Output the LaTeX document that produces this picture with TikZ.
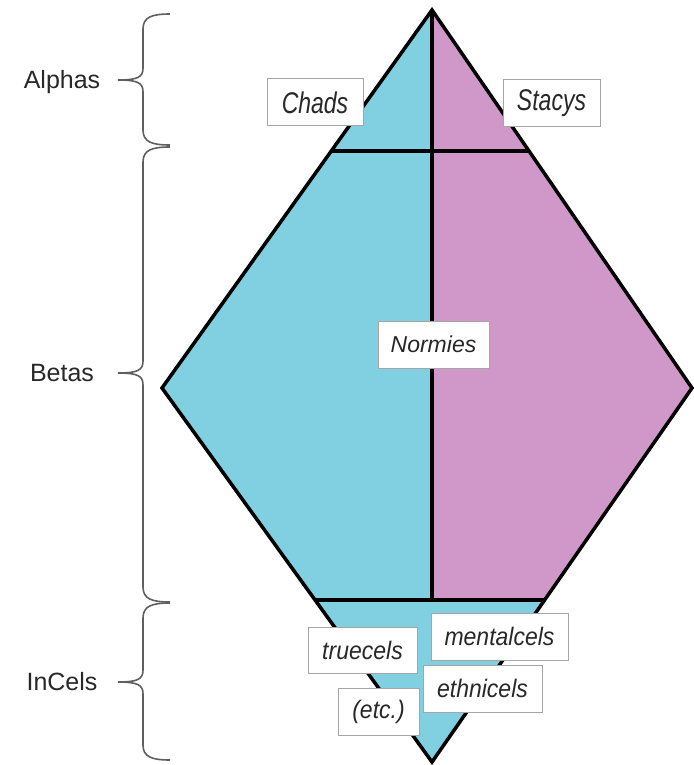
\documentclass[tikz,border=0pt]{standalone}
\usepackage{fontspec}
\setmainfont{Liberation Sans}
\usetikzlibrary{calc}
\definecolor{cyanfill}{RGB}{128,208,226}
\definecolor{pinkfill}{RGB}{208,151,201}
\definecolor{textgray}{RGB}{40,40,40}
\definecolor{boxgray}{RGB}{165,165,165}
\definecolor{bracegray}{RGB}{95,95,95}
\begin{document}
\begin{tikzpicture}[x=1pt,y=-1pt,
  lbl/.style={draw=boxgray, line width=1pt, fill=white, inner sep=0pt,
    minimum height=47pt, font=\fontsize{23}{26}\selectfont\itshape, text=textgray},
  side/.style={font=\fontsize{25}{28}\selectfont, text=textgray},
  edgeline/.style={line width=3.5pt, draw=black},
  bracestyle/.style={draw=bracegray, line width=1.6pt}]
\useasboundingbox (0,0) rectangle (693,765);
% diamond corners
\coordinate (top) at (432,10);
\coordinate (left) at (162,388);
\coordinate (right) at (692,388);
\coordinate (bot) at (432,762);
\coordinate (tl) at ($(top)!0.373!(left)$);
\coordinate (tr) at ($(top)!0.373!(right)$);
\coordinate (bl) at ($(left)!0.567!(bot)$);
\coordinate (br) at ($(right)!0.567!(bot)$);
\coordinate (mb) at (top |- bl);
% fills
\fill[cyanfill] (top) -- (left) -- (bot) -- (right) -- cycle;
\fill[pinkfill] (top) -- (right) -- (br) -- (mb) -- cycle;
% inner lines
\draw[edgeline] (tl) -- (tr);
\draw[edgeline] (bl) -- (br);
\draw[edgeline] (top) -- (mb);
% outline
\draw[edgeline, line join=miter] (top) -- (left) -- (bot) -- (right) -- cycle;
% braces
\foreach \t/\m/\b in {14/80/145, 147/373/602, 603/682/760}{
  \draw[bracestyle] (170,\t) .. controls (152,\t) and (143,\t+3) .. (143,\t+15)
    -- (143,\m-12) .. controls (143,\m-3) and (138,\m) .. (118,\m);
  \draw[bracestyle] (118,\m) .. controls (138,\m) and (143,\m+3) .. (143,\m+12)
    -- (143,\b-15) .. controls (143,\b-3) and (152,\b) .. (170,\b);
}
% side labels
\node[side] (alphas) at (62,82) {Alphas};
\node[side] (betas) at (62,373) {Betas};
\node[side] (incels) at (62,682) {InCels};
% boxed labels
\node[lbl, minimum width=96pt] (chads) at (315,102.5) {\scalebox{1}[1.3]{Chads}};
\node[lbl, minimum width=97pt] (stacys) at (551.5,103) {\scalebox{1}[1.3]{Stacys}};
\node[lbl, minimum width=111pt] (normies) at (433.5,344.5) {Normies};
\node[lbl, minimum width=109pt, minimum height=46pt] (truecels) at (362.5,650) {\scalebox{1}[1.1]{truecels}};
\node[lbl, minimum width=137pt] (mentalcels) at (499.5,636.5) {\scalebox{1}[1.1]{mentalcels}};
\node[lbl, minimum width=119pt] (ethnicels) at (482.5,688.5) {\scalebox{1}[1.1]{ethnicels}};
\node[lbl, minimum width=81pt] (etc) at (378.5,711.5) {\scalebox{1}[1.1]{(etc.)}};
\end{tikzpicture}
\end{document}
